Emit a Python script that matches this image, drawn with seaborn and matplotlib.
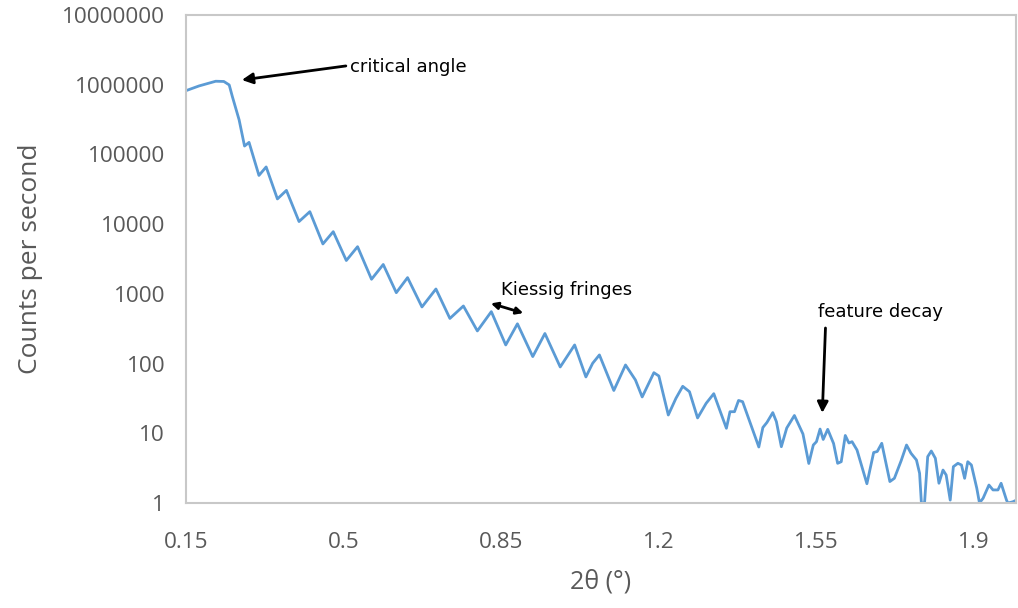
import matplotlib
matplotlib.use("Agg")
import matplotlib.pyplot as plt
import seaborn as sns
import pandas as pd

# X-ray reflectivity scan: 2-theta (degrees) vs detector counts per second
two_theta = [
    0.150, 0.179, 0.216, 0.234, 0.246, 0.253, 0.268, 0.280, 0.290, 0.312,
    0.328, 0.353, 0.373, 0.401, 0.425, 0.454, 0.477, 0.506, 0.531, 0.562,
    0.588, 0.617, 0.642, 0.674, 0.705, 0.736, 0.766, 0.797, 0.828, 0.860,
    0.886, 0.920, 0.947, 0.981, 1.013, 1.038, 1.053, 1.068, 1.100, 1.126,
    1.148, 1.163, 1.189, 1.200, 1.221, 1.238, 1.253, 1.268, 1.286, 1.305,
    1.322, 1.350, 1.358, 1.368, 1.377, 1.386, 1.422, 1.431, 1.440, 1.453,
    1.461, 1.472, 1.484, 1.501, 1.520, 1.533, 1.543, 1.550, 1.558, 1.565,
    1.575, 1.588, 1.597, 1.605, 1.614, 1.622, 1.629, 1.640, 1.662, 1.677,
    1.685, 1.695, 1.713, 1.723, 1.738, 1.750, 1.760, 1.772, 1.779, 1.783,
    1.790, 1.797, 1.805, 1.814, 1.822, 1.831, 1.838, 1.847, 1.854, 1.864,
    1.872, 1.879, 1.886, 1.894, 1.906, 1.912, 1.920, 1.933, 1.942, 1.953,
    1.960, 1.972, 1.975, 1.986, 1.994,
]
counts = [
    822000, 961000, 1122000, 1114000, 993000, 675000, 313000, 132000, 149000, 50000,
    66200, 23000, 30500, 10900, 15100, 5200, 7800, 3010, 4750, 1620,
    2640, 1040, 1710, 649, 1175, 444, 670, 294, 556, 185,
    372, 126, 270, 89.4, 185, 64.3, 101, 133, 41.1, 95.5,
    58.2, 33.2, 74.0, 66.4, 18.3, 31.8, 47.2, 39.5, 16.6, 26.9,
    37.0, 11.8, 20.4, 20.4, 29.6, 28.4, 6.36, 12.1, 14.3, 19.8,
    14.7, 6.42, 11.9, 18.0, 9.77, 3.69, 6.79, 7.58, 11.5, 8.15,
    11.4, 7.14, 3.71, 3.91, 9.30, 7.26, 7.58, 5.76, 1.89, 5.30,
    5.48, 7.19, 2.03, 2.26, 4.03, 6.79, 5.16, 4.14, 2.67, 1.0,
    1.0, 4.62, 5.57, 4.38, 1.92, 2.97, 2.52, 1.10, 3.32, 3.71,
    3.51, 2.26, 3.91, 3.51, 1.63, 1.0, 1.17, 1.81, 1.54, 1.54,
    1.92, 1.10, 1.0, 1.04, 1.10,
]

x_ticks = [0.15, 0.5, 0.85, 1.2, 1.55, 1.9]
x_tick_labels = ["0.15", "0.5", "0.85", "1.2", "1.55", "1.9"]
y_ticks = [1, 10, 100, 1000, 10000, 100000, 1000000, 10000000]
y_tick_labels = ["1", "10", "100", "1000", "10000", "100000", "1000000", "10000000"]

df = pd.DataFrame({"two_theta": two_theta, "counts": counts})

sns.set_theme(style="white")
plt.rcParams["font.family"] = ["Open Sans", "DejaVu Sans"]

fig = plt.figure(figsize=(10.18, 6.08), dpi=100)
ax = fig.add_axes([0.1827, 0.1727, 0.8153, 0.8026])

sns.lineplot(data=df, x="two_theta", y="counts", ax=ax, color="#5b9bd5",
             linewidth=2.0, estimator=None, sort=False,
             solid_joinstyle="round", solid_capstyle="round")

ax.set_yscale("log")
ax.set_xlim(0.15, 1.993)
ax.set_ylim(1, 10000000)
ax.set_xticks(x_ticks)
ax.set_xticklabels(x_tick_labels)
ax.set_yticks(y_ticks)
ax.set_yticklabels(y_tick_labels)
ax.yaxis.set_minor_locator(matplotlib.ticker.NullLocator())
ax.tick_params(axis="both", length=0, labelsize=16.2, labelcolor="#595959")
ax.tick_params(axis="x", pad=21)
ax.tick_params(axis="y", pad=15)

for side in ["left", "right", "top", "bottom"]:
    ax.spines[side].set_color("#c8c8c8")
    ax.spines[side].set_linewidth(1.5)

ax.set_xlabel("2θ (°)", fontsize=18, color="#595959", labelpad=12)
ax.set_ylabel("Counts per second", fontsize=19, color="#595959", labelpad=14)

arrow = dict(arrowstyle="-|>", color="black", lw=2, mutation_scale=16,
             shrinkA=0, shrinkB=0)
ax.annotate("", xy=(0.274, 1.17e6), xytext=(0.505, 1.86e6), arrowprops=arrow)
ax.text(0.514, 1.8e6, "critical angle", fontsize=13, family="DejaVu Sans",
        va="center", ha="left", color="black")

ax.annotate("", xy=(0.899, 530), xytext=(0.827, 730),
            arrowprops=dict(arrowstyle="<|-|>", color="black", lw=2,
                            mutation_scale=10, shrinkA=0, shrinkB=0))
ax.text(0.85, 1137, "Kiessig fringes", fontsize=13, family="DejaVu Sans",
        va="center", ha="left", color="black")

ax.annotate("", xy=(1.563, 19.6), xytext=(1.570, 324), arrowprops=arrow)
ax.text(1.554, 550, "feature decay", fontsize=13, family="DejaVu Sans",
        va="center", ha="left", color="black")

fig.savefig("out.png", dpi=100)
